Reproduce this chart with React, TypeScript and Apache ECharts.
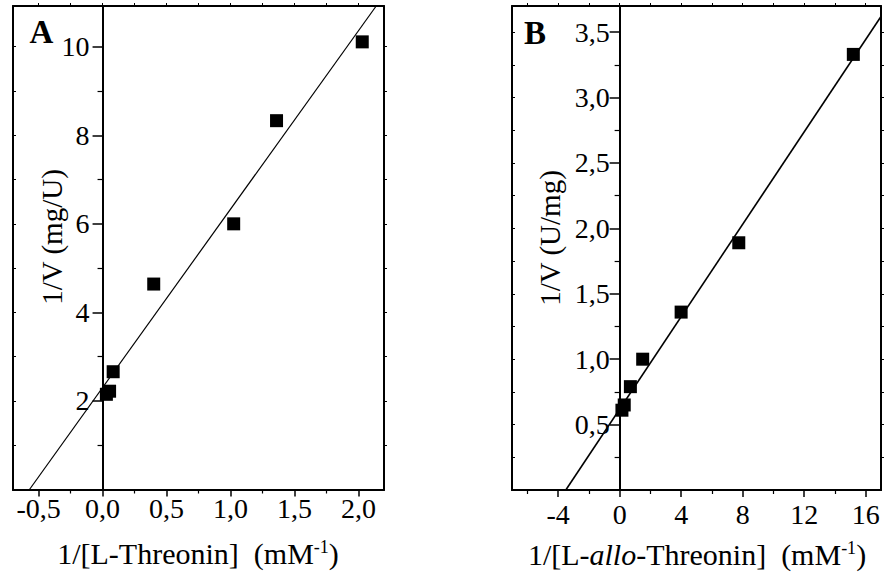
import React, { useEffect, useRef } from 'react';
import * as echarts from 'echarts';

// Panel A: 1/[L-Threonin] vs 1/V
const aX = [0.03, 0.055, 0.083, 0.40, 1.025, 1.36, 2.03];
const aY = [2.15, 2.22, 2.66, 4.64, 6.0, 8.33, 10.11];
const aFitX = [-0.571, 2.139];
const aFitY = [0, 10.92];
const aXTicks = [-0.5, 0, 0.5, 1, 1.5, 2];
const aXMinor = [-0.25, 0.25, 0.75, 1.25, 1.75];
const aYTicks = [2, 4, 6, 8, 10];
const aYMinor = [1, 3, 5, 7, 9];
const aFrameX = [-0.5, -0.25, 0, 0.25, 0.5, 0.75, 1, 1.25, 1.5, 1.75, 2];
const aFrameY = [1, 2, 3, 4, 5, 6, 7, 8, 9, 10];

// Panel B: 1/[L-allo-Threonin] vs 1/V
const bX = [0.15, 0.3, 0.7, 1.5, 4.0, 7.75, 15.2];
const bY = [0.61, 0.65, 0.79, 1.0, 1.36, 1.89, 3.33];
const bFitX = [-3.5, 17];
const bFitY = [0, 3.62];
const bXTicks = [-4, 0, 4, 8, 12, 16];
const bXMinor = [-6, -2, 2, 6, 10, 14];
const bYTicks = [0.5, 1, 1.5, 2, 2.5, 3, 3.5];
const bYMinor = [0.25, 0.75, 1.25, 1.75, 2.25, 2.75, 3.25];
const bFrameX = [-6, -4, -2, 0, 2, 4, 6, 8, 10, 12, 14, 16];
const bFrameY = [0.25, 0.5, 0.75, 1, 1.25, 1.5, 1.75, 2, 2.25, 2.5, 2.75, 3, 3.25, 3.5];

const FONT = 'Liberation Serif, serif';
const FS = 28;
const TITLE_FS = 30;
const BLACK = '#000';

const comma1 = (v: number) => v.toFixed(1).replace('.', ',');

const GRID_A = { left: 13, top: 6, width: 371, height: 483.5 };
const GRID_B = { left: 512, top: 6, width: 369, height: 484 };
const A_XMIN = -0.7, A_XMAX = 2.2, A_YMIN = 0, A_YMAX = 10.92;
const B_XMIN = -7, B_XMAX = 17, B_YMIN = 0, B_YMAX = 3.7;

function lineStyle(w: number) {
  return { color: BLACK, width: w };
}

function xAxes(grid: number, min: number, max: number, major: number[], minor: number[], frame: number[], fmt: (v: number) => string, labelMargin: number) {
  return [
    {
      type: 'value', gridIndex: grid, min, max, position: 'bottom',
      axisLine: { show: true, onZero: false, lineStyle: lineStyle(2) },
      axisTick: { show: true, customValues: major, length: 7, inside: false, lineStyle: lineStyle(1.5) },
      axisLabel: { show: true, customValues: major, formatter: fmt, margin: labelMargin, color: BLACK, fontFamily: FONT, fontSize: FS },
      splitLine: { show: false },
    },
    {
      type: 'value', gridIndex: grid, min, max, position: 'bottom',
      axisLine: { show: true, onZero: false, lineStyle: lineStyle(2) },
      axisTick: { show: true, customValues: minor, length: 4, inside: false, lineStyle: lineStyle(1.2) },
      axisLabel: { show: false },
      splitLine: { show: false },
    },
    {
      type: 'value', gridIndex: grid, min, max, position: 'top',
      axisLine: { show: true, onZero: false, lineStyle: lineStyle(2) },
      axisTick: { show: true, customValues: frame, length: 3, inside: false, lineStyle: lineStyle(1) },
      axisLabel: { show: false },
      splitLine: { show: false },
    },
  ];
}

// zeroOffset: shift (px) that puts the labelled y axis on x = 0 of its grid
function yAxes(grid: number, zeroOffset: number, min: number, max: number, major: number[], minor: number[], frame: number[], fmt: (v: number) => string, labelMargin: number) {
  return [
    {
      type: 'value', gridIndex: grid, min, max, position: 'left', offset: zeroOffset,
      axisLine: { show: true, onZero: false, lineStyle: lineStyle(2) },
      axisTick: { show: true, customValues: major, length: 10, inside: false, lineStyle: lineStyle(1.5) },
      axisLabel: { show: true, customValues: major, formatter: fmt, margin: labelMargin, color: BLACK, fontFamily: FONT, fontSize: FS },
      splitLine: { show: false },
    },
    {
      type: 'value', gridIndex: grid, min, max, position: 'left', offset: zeroOffset,
      axisLine: { show: true, onZero: false, lineStyle: lineStyle(2) },
      axisTick: { show: true, customValues: minor, length: 5, inside: false, lineStyle: lineStyle(1.2) },
      axisLabel: { show: false },
      splitLine: { show: false },
    },
    {
      type: 'value', gridIndex: grid, min, max, position: 'left',
      axisLine: { show: true, onZero: false, lineStyle: lineStyle(2) },
      axisTick: { show: true, customValues: frame, length: 3, inside: true, lineStyle: lineStyle(1) },
      axisLabel: { show: false },
      splitLine: { show: false },
    },
    {
      type: 'value', gridIndex: grid, min, max, position: 'right',
      axisLine: { show: true, onZero: false, lineStyle: lineStyle(2) },
      axisTick: { show: true, customValues: frame, length: 3, inside: false, lineStyle: lineStyle(1) },
      axisLabel: { show: false },
      splitLine: { show: false },
    },
  ];
}

const zip = (xs: number[], ys: number[]) => xs.map((x, i) => [x, ys[i]]);

export default function App() {
  const ref = useRef<HTMLDivElement>(null);
  useEffect(() => {
    if (!ref.current) return;
    const chart = echarts.init(ref.current, null, { renderer: 'svg' });
    const aZero = -((0 - A_XMIN) / (A_XMAX - A_XMIN)) * GRID_A.width;
    const bZero = -((0 - B_XMIN) / (B_XMAX - B_XMIN)) * GRID_B.width;
    const option: any = {
      animation: false,
      backgroundColor: '#fff',
      textStyle: { fontFamily: FONT, color: BLACK },
      grid: [
        { ...GRID_A, show: false, containLabel: false, outerBoundsMode: 'none' },
        { ...GRID_B, show: false, containLabel: false, outerBoundsMode: 'none' },
      ],
      xAxis: [
        ...xAxes(0, A_XMIN, A_XMAX, aXTicks, aXMinor, aFrameX, comma1, 5),
        ...xAxes(1, B_XMIN, B_XMAX, bXTicks, bXMinor, bFrameX, (v: number) => String(v), 10),
      ],
      yAxis: [
        ...yAxes(0, aZero, A_YMIN, A_YMAX, aYTicks, aYMinor, aFrameY, (v: number) => String(v), 13),
        ...yAxes(1, bZero, B_YMIN, B_YMAX, bYTicks, bYMinor, bFrameY, comma1, 10),
      ],
      series: [
        {
          type: 'line', xAxisIndex: 0, yAxisIndex: 0, data: zip(aFitX, aFitY),
          showSymbol: false, symbol: 'none', lineStyle: { color: BLACK, width: 1.2 }, clip: true, z: 3,
        },
        {
          type: 'scatter', xAxisIndex: 0, yAxisIndex: 0, data: zip(aX, aY),
          symbol: 'rect', symbolSize: 13, itemStyle: { color: BLACK, opacity: 1 }, z: 4,
        },
        {
          type: 'line', xAxisIndex: 3, yAxisIndex: 4, data: zip(bFitX, bFitY),
          showSymbol: false, symbol: 'none', lineStyle: { color: BLACK, width: 1.6 }, clip: true, z: 3,
        },
        {
          type: 'scatter', xAxisIndex: 3, yAxisIndex: 4, data: zip(bX, bY),
          symbol: 'rect', symbolSize: 13, itemStyle: { color: BLACK, opacity: 1 }, z: 4,
        },
      ],
      graphic: [
        {
          type: 'text', x: 41.5, y: 32, z: 10,
          style: { text: 'A', fontFamily: FONT, fontSize: 33, fontWeight: 'bold', fill: BLACK, align: 'center', verticalAlign: 'middle' },
        },
        {
          type: 'text', x: 535, y: 33, z: 10,
          style: { text: 'B', fontFamily: FONT, fontSize: 33, fontWeight: 'bold', fill: BLACK, align: 'center', verticalAlign: 'middle' },
        },
        {
          type: 'text', x: 52, y: 237, rotation: Math.PI / 2, z: 10,
          style: { text: '1/V (mg/U)', fontFamily: FONT, fontSize: 29, fill: BLACK, align: 'center', verticalAlign: 'middle' },
        },
        {
          type: 'text', x: 550, y: 238, rotation: Math.PI / 2, z: 10,
          style: { text: '1/V (U/mg)', fontFamily: FONT, fontSize: 29, fill: BLACK, align: 'center', verticalAlign: 'middle' },
        },
        {
          type: 'text', x: 198, y: 553, z: 10,
          style: {
            text: '{n|1/[L-Threonin]\u00a0 (mM}{s|-1}{n|)}',
            fontFamily: FONT, fontSize: TITLE_FS, fill: BLACK, align: 'center', verticalAlign: 'middle',
            rich: {
              n: { fontFamily: FONT, fontSize: TITLE_FS, fill: BLACK },
              s: { fontFamily: FONT, fontSize: 18, fill: BLACK, verticalAlign: 'top' },
            },
          },
        },
        {
          type: 'text', x: 697, y: 554, z: 10,
          style: {
            text: '{n|1/[L-}{i|allo}{n|-Threonin]\u00a0 (mM}{s|-1}{n|)}',
            fontFamily: FONT, fontSize: TITLE_FS, fill: BLACK, align: 'center', verticalAlign: 'middle',
            rich: {
              n: { fontFamily: FONT, fontSize: TITLE_FS, fill: BLACK },
              i: { fontFamily: FONT, fontSize: TITLE_FS, fontStyle: 'italic', fill: BLACK },
              s: { fontFamily: FONT, fontSize: 18, fill: BLACK, verticalAlign: 'top' },
            },
          },
        },
      ],
    };
    chart.setOption(option);
    return () => chart.dispose();
  }, []);
  return <div ref={ref} style={{ position: 'fixed', left: 0, top: 0, width: 885, height: 573, background: '#fff' }} />;
}
